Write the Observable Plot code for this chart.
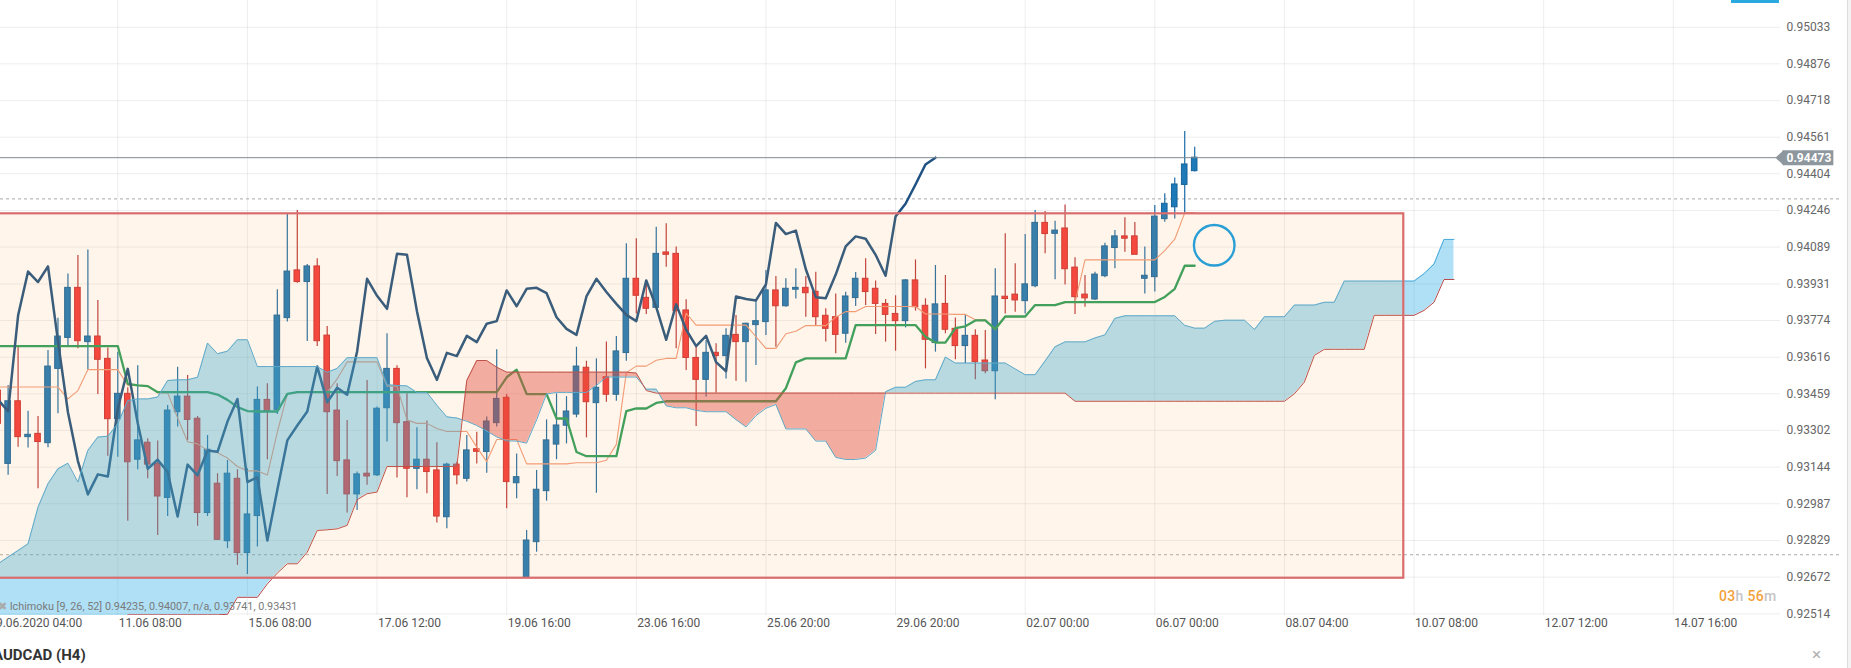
<!DOCTYPE html>
<html><head><meta charset="utf-8">
<script src="https://cdn.jsdelivr.net/npm/d3@7"></script>
<script src="https://cdn.jsdelivr.net/npm/@observablehq/plot@0.6"></script>
<style>
html,body{margin:0;padding:0;background:#fff;}
body{width:1851px;height:668px;position:relative;overflow:hidden;font-family:Roboto,"Noto Sans",sans-serif;}
#chart{position:absolute;left:0;top:0;}
.ov{position:absolute;white-space:nowrap;}
</style></head><body>
<div id="chart"></div>
<div class="ov" style="left:-2px;top:600px;font-size:10.8px;color:#7a7a7a;"><span style="color:#aaa">✖</span> Ichimoku [9, 26, 52] 0.94235, 0.94007, n/a, 0.93741, 0.93431</div>
<div class="ov" style="left:1719px;top:588px;font-size:14px;font-weight:500;letter-spacing:0.3px;"><span style="color:#f2a23a">03</span><span style="color:#c4c4c4">h</span> <span style="color:#f2a23a">56</span><span style="color:#c4c4c4">m</span></div>
<div class="ov" style="left:-7px;top:646px;font-size:15px;font-weight:700;color:#333;">AUDCAD (H4)</div>
<div class="ov" style="left:1812px;top:644px;font-size:17px;color:#b0b0b0;">×</div>
<div class="ov" style="left:1731px;top:0;width:48px;height:3px;background:#2aa8e0;"></div>
<div class="ov" style="left:1847px;top:0;width:4px;height:668px;background:#f3f3f3;border-left:1px solid #dcdcdc;"></div>
<script>
// ---- bar index: 0 = 11.06 08:00 (H4 bars); candles from -12 to 108 ----
const candleIndex = d3.range(-12, 109);
const cloudIndex = d3.range(-12, 135);

const open = [
0.93473,0.93158,0.93427,0.93273,0.93287,0.93247,0.93566,0.93699,0.93914,0.93681,
0.93705,0.93609,0.93350,0.93459,0.93176,0.93249,0.93158,0.93012,0.93380,0.93447,
0.93352,0.92947,0.93073,0.92826,0.93094,0.92775,0.92934,0.93433,0.93390,0.93784,
0.93989,0.93939,0.94006,0.93709,0.93387,0.93173,0.93027,0.93116,0.93109,0.93397,
0.93566,0.93337,0.93137,0.93176,0.93130,0.92929,0.93155,0.93094,0.93221,0.93209,
0.93333,0.93442,0.93075,0.92668,0.92822,0.93041,0.93241,0.93322,0.93370,0.93571,
0.93419,0.93530,0.93455,0.93634,0.93953,0.93871,0.93828,0.94066,0.94060,0.93817,
0.93613,0.93519,0.93635,0.93621,0.93712,0.93681,0.93754,0.93767,0.93903,0.93835,
0.93906,0.93914,0.93897,0.93794,0.93788,0.93717,0.93870,0.93953,0.93910,0.93845,
0.93802,0.93771,0.93946,0.93837,0.93677,0.93845,0.93738,0.93664,0.93708,0.93602,
0.93556,0.93876,0.93885,0.93857,0.93921,0.94193,0.94146,0.94169,0.94001,0.93885,
0.93864,0.93964,0.94085,0.94135,0.94135,0.93953,0.93960,0.94209,0.94260,0.94356,
0.94415];
const high = [
0.93645,0.93495,0.93659,0.93384,0.93362,0.93645,0.93784,0.93974,0.94053,0.94077,
0.93860,0.93656,0.93638,0.93485,0.93580,0.93266,0.93256,0.93409,0.93573,0.93538,
0.93362,0.93280,0.93116,0.93173,0.93133,0.93137,0.93488,0.93502,0.93906,0.94232,
0.94246,0.94014,0.94039,0.93748,0.93502,0.93344,0.93123,0.93516,0.93402,0.93717,
0.93580,0.93459,0.93313,0.93342,0.93249,0.93161,0.93165,0.93280,0.93294,0.93359,
0.93648,0.93456,0.93201,0.92872,0.93130,0.93347,0.93459,0.93447,0.93659,0.93599,
0.93609,0.93681,0.93705,0.94103,0.94125,0.93946,0.94174,0.94189,0.94089,0.93863,
0.93659,0.93688,0.93674,0.93738,0.93795,0.93762,0.93855,0.93989,0.93963,0.93953,
0.93996,0.93963,0.93981,0.93824,0.93888,0.93895,0.93980,0.94039,0.93943,0.93864,
0.93880,0.93950,0.94034,0.93867,0.94010,0.93967,0.93785,0.93795,0.93734,0.93731,
0.93996,0.94146,0.94017,0.94143,0.94246,0.94242,0.94200,0.94270,0.94043,0.93967,
0.93981,0.94106,0.94160,0.94215,0.94195,0.94089,0.94268,0.94318,0.94386,0.94585,
0.94518];
const low = [
0.92894,0.93109,0.93230,0.93226,0.93051,0.93227,0.93373,0.93667,0.93652,0.93562,
0.93456,0.93191,0.93187,0.92912,0.93133,0.93094,0.92851,0.92932,0.93316,0.93259,
0.92890,0.92932,0.92829,0.92794,0.92722,0.92683,0.92801,0.93176,0.93370,0.93767,
0.93934,0.93684,0.93662,0.93027,0.93104,0.92947,0.92958,0.93066,0.93104,0.93252,
0.93098,0.93013,0.93047,0.93030,0.92904,0.92879,0.93069,0.93080,0.93158,0.93118,
0.93316,0.92965,0.93008,0.92668,0.92779,0.92998,0.93176,0.93244,0.93356,0.93270,
0.93032,0.93423,0.93427,0.93599,0.93802,0.93800,0.93824,0.94003,0.93652,0.93559,
0.93319,0.93445,0.93462,0.93523,0.93513,0.93509,0.93581,0.93709,0.93659,0.93831,
0.93866,0.93788,0.93752,0.93681,0.93631,0.93676,0.93834,0.93838,0.93714,0.93681,
0.93642,0.93742,0.93814,0.93566,0.93638,0.93717,0.93605,0.93588,0.93519,0.93545,
0.93433,0.93802,0.93809,0.93802,0.93914,0.94060,0.93949,0.93926,0.93800,0.93831,
0.93860,0.93957,0.93996,0.94067,0.94056,0.93888,0.93896,0.94196,0.94210,0.94229,
0.94411];
const close = [
0.93330,0.93427,0.93273,0.93283,0.93252,0.93576,0.93705,0.93914,0.93685,0.93705,
0.93605,0.93350,0.93459,0.93165,0.93259,0.93155,0.93018,0.93387,0.93447,0.93347,
0.92947,0.93219,0.92832,0.93116,0.92775,0.92941,0.93433,0.93384,0.93795,0.93984,
0.93939,0.94006,0.93685,0.93380,0.93170,0.93027,0.93113,0.93104,0.93395,0.93566,
0.93333,0.93137,0.93176,0.93123,0.92932,0.93155,0.93109,0.93216,0.93210,0.93340,
0.93437,0.93080,0.93101,0.92829,0.93047,0.93259,0.93323,0.93383,0.93576,0.93423,
0.93485,0.93455,0.93641,0.93953,0.93880,0.93824,0.94060,0.94056,0.93814,0.93613,
0.93519,0.93635,0.93621,0.93708,0.93681,0.93760,0.93771,0.93903,0.93835,0.93910,
0.93914,0.93891,0.93788,0.93738,0.93712,0.93877,0.93953,0.93896,0.93845,0.93798,
0.93771,0.93946,0.93831,0.93691,0.93843,0.93734,0.93664,0.93708,0.93595,0.93556,
0.93877,0.93866,0.93860,0.93929,0.94193,0.94145,0.94160,0.93994,0.93874,0.93869,
0.93971,0.94092,0.94135,0.94125,0.94056,0.93966,0.94220,0.94275,0.94358,0.94444,
0.94473];

// Ichimoku lines (per candle)
const tenkan = [
0.93488,0.93488,0.93488,0.93488,0.93488,0.93488,0.93488,0.93437,0.93473,0.93563,
0.93563,0.93563,0.93563,0.93495,0.93495,0.93495,0.93463,0.93463,0.93355,0.93253,
0.93244,0.93216,0.93206,0.93183,0.93147,0.93128,0.93128,0.93110,0.93295,0.93458,
0.93465,0.93465,0.93465,0.93465,0.93523,0.93596,0.93596,0.93596,0.93596,0.93492,
0.93492,0.93347,0.93332,0.93332,0.93310,0.93297,0.93297,0.93297,0.93230,0.93168,
0.93263,0.93263,0.93263,0.93158,0.93158,0.93158,0.93158,0.93158,0.93163,0.93163,
0.93163,0.93174,0.93242,0.93550,0.93578,0.93578,0.93603,0.93611,0.93611,0.93805,
0.93754,0.93754,0.93754,0.93754,0.93754,0.93754,0.93704,0.93654,0.93654,0.93717,
0.93728,0.93752,0.93752,0.93752,0.93788,0.93812,0.93812,0.93834,0.93834,0.93834,
0.93834,0.93834,0.93834,0.93802,0.93802,0.93802,0.93800,0.93800,0.93777,0.93777,
0.93734,0.93790,0.93790,0.93790,0.93840,0.93840,0.93840,0.93851,0.93851,0.94034,
0.94034,0.94034,0.94034,0.94034,0.94034,0.94034,0.94034,0.94074,0.94123,0.94236,
0.94236];
const kijun = [
0.93664,0.93664,0.93664,0.93664,0.93664,0.93664,0.93664,0.93664,0.93664,0.93664,
0.93664,0.93664,0.93664,0.93502,0.93495,0.93492,0.93466,0.93466,0.93466,0.93466,
0.93466,0.93466,0.93456,0.93433,0.93402,0.93385,0.93383,0.93383,0.93383,0.93459,
0.93466,0.93466,0.93466,0.93466,0.93466,0.93466,0.93466,0.93466,0.93466,0.93466,
0.93466,0.93466,0.93466,0.93466,0.93466,0.93466,0.93466,0.93466,0.93466,0.93466,
0.93466,0.93530,0.93563,0.93458,0.93458,0.93458,0.93353,0.93353,0.93209,0.93191,
0.93191,0.93191,0.93191,0.93385,0.93396,0.93396,0.93420,0.93427,0.93427,0.93427,
0.93427,0.93427,0.93427,0.93427,0.93427,0.93427,0.93427,0.93427,0.93427,0.93483,
0.93594,0.93611,0.93611,0.93611,0.93611,0.93611,0.93754,0.93754,0.93754,0.93754,
0.93754,0.93754,0.93754,0.93704,0.93679,0.93679,0.93741,0.93749,0.93774,0.93774,
0.93737,0.93791,0.93791,0.93791,0.93840,0.93840,0.93840,0.93853,0.93853,0.93853,
0.93853,0.93853,0.93853,0.93853,0.93853,0.93853,0.93853,0.93875,0.93910,0.94009,
0.94009];

// Cloud spans (index -12 .. 134, 26 bars ahead of the last candle)
const senkouA = [
0.92729,0.92758,0.92786,0.92815,0.92972,0.93073,0.93137,0.93161,0.93080,0.93216,
0.93273,0.93277,0.93330,0.93430,0.93437,0.93437,0.93445,0.93516,0.93519,0.93519,
0.93530,0.93677,0.93631,0.93642,0.93691,0.93691,0.93576,0.93576,0.93576,0.93576,
0.93576,0.93576,0.93576,0.93551,0.93568,0.93614,0.93614,0.93614,0.93614,0.93498,
0.93495,0.93493,0.93465,0.93465,0.93410,0.93360,0.93355,0.93341,0.93323,0.93299,
0.93274,0.93257,0.93256,0.93247,0.93347,0.93458,0.93465,0.93465,0.93465,0.93465,
0.93495,0.93531,0.93531,0.93531,0.93531,0.93479,0.93479,0.93407,0.93399,0.93399,
0.93388,0.93382,0.93382,0.93382,0.93348,0.93317,0.93365,0.93397,0.93413,0.93308,
0.93308,0.93308,0.93256,0.93256,0.93186,0.93177,0.93177,0.93183,0.93216,0.93468,
0.93487,0.93487,0.93512,0.93519,0.93519,0.93617,0.93591,0.93591,0.93591,0.93591,
0.93591,0.93591,0.93566,0.93541,0.93541,0.93600,0.93661,0.93682,0.93682,0.93682,
0.93699,0.93712,0.93783,0.93794,0.93794,0.93794,0.93794,0.93794,0.93794,0.93753,
0.93741,0.93741,0.93770,0.93775,0.93775,0.93775,0.93735,0.93790,0.93790,0.93790,
0.93840,0.93840,0.93840,0.93852,0.93852,0.93943,0.93943,0.93943,0.93943,0.93943,
0.93943,0.93943,0.93943,0.93975,0.94016,0.94122,0.94122];
const senkouB = [
0.92470,0.92470,0.92470,0.92470,0.92470,0.92470,0.92470,0.92470,0.92470,0.92470,
0.92470,0.92470,0.92470,0.92510,0.92510,0.92510,0.92510,0.92510,0.92510,0.92510,
0.92510,0.92510,0.92510,0.92512,0.92585,0.92585,0.92585,0.92643,0.92689,0.92729,
0.92729,0.92779,0.92872,0.92875,0.92879,0.92894,0.93004,0.93030,0.93037,0.93147,
0.93147,0.93147,0.93147,0.93147,0.93147,0.93147,0.93147,0.93516,0.93602,0.93602,
0.93573,0.93552,0.93552,0.93552,0.93552,0.93552,0.93552,0.93552,0.93552,0.93552,
0.93552,0.93552,0.93552,0.93552,0.93548,0.93473,0.93462,0.93462,0.93462,0.93462,
0.93462,0.93462,0.93462,0.93462,0.93462,0.93462,0.93462,0.93462,0.93462,0.93462,
0.93462,0.93462,0.93462,0.93462,0.93462,0.93462,0.93462,0.93462,0.93462,0.93462,
0.93462,0.93462,0.93462,0.93462,0.93462,0.93462,0.93462,0.93462,0.93462,0.93462,
0.93462,0.93462,0.93462,0.93462,0.93462,0.93462,0.93462,0.93462,0.93427,0.93427,
0.93427,0.93427,0.93427,0.93427,0.93427,0.93427,0.93427,0.93427,0.93427,0.93427,
0.93427,0.93427,0.93427,0.93427,0.93427,0.93427,0.93427,0.93427,0.93427,0.93427,
0.93459,0.93509,0.93624,0.93650,0.93650,0.93650,0.93650,0.93650,0.93796,0.93796,
0.93796,0.93796,0.93796,0.93817,0.93852,0.93950,0.93950];

// axis ticks
const yTicks = [0.95033,0.94876,0.94718,0.94561,0.94404,0.94246,0.94089,0.93931,0.93774,
  0.93616,0.93459,0.93302,0.93144,0.92987,0.92829,0.92672,0.92514];
const xTickIndex = [-13,0,13,26,39,52,65,78,91,104,117,130,143,156];
const xTickLabels = ["09.06.2020 04:00","11.06 08:00","15.06 08:00","17.06 12:00","19.06 16:00",
  "23.06 16:00","25.06 20:00","29.06 20:00","02.07 00:00","06.07 00:00","08.07 04:00",
  "10.07 08:00","12.07 12:00","14.07 16:00"];

// drawings
const lastPrice = [0.94473];
const dashedLevels = [0.94296, 0.92768];
const zone = [{start: -14, end: 128.97, low: 0.92667, high: 0.94232}];
const marker = [{i: 109.96, p: 0.94097}];

// ---- derived tables ----
const candles = candleIndex.map((i, k) => ({i, o: open[k], h: high[k], l: low[k], c: close[k]}));
const isUp = d => d.c >= d.o;
const series = arr => candleIndex.map((i, k) => ({i, v: arr[k]}));
const chikou = candleIndex.slice(0, candleIndex.length - 26).map((i, k) => ({i, v: close[k + 26]}));
const cloud = [];
for (let k = 0; k < cloudIndex.length; k++) {
  const a = senkouA[k], b = senkouB[k];
  cloud.push({i: cloudIndex[k], a, b});
  if (k < cloudIndex.length - 1) {
    const d1 = a - b, d2 = senkouA[k+1] - senkouB[k+1];
    if (d1 * d2 < 0) {
      const t = d1 / (d1 - d2);
      const v = a + t * (senkouA[k+1] - a);
      cloud.push({i: cloudIndex[k] + t, a: v, b: v});
    }
  }
}
const xTicks = xTickIndex.map((i, k) => ({i, label: xTickLabels[k]}));

const X0 = -11.764, X1 = 166.75, Y0 = 0.92507, Y1 = 0.95148;
const leftArrow = {draw(ctx, size) { const r = Math.sqrt(size / Math.PI);
  ctx.moveTo(-0.55 * r, 0); ctx.lineTo(0.55 * r, -r); ctx.lineTo(0.55 * r, r); ctx.closePath(); }};

const chart = Plot.plot({
  width: 1851, height: 640,
  marginTop: 0, marginLeft: 0, marginRight: 71, marginBottom: 25,
  x: {type: "linear", domain: [X0, X1], axis: null},
  y: {type: "linear", domain: [Y0, Y1], axis: null},
  style: {background: "transparent", fontFamily: "Roboto, 'Noto Sans', sans-serif"},
  marks: [
    Plot.ruleY(yTicks, {x1: X0, x2: X1, stroke: "#000", strokeOpacity: 0.07}),
    Plot.ruleX(xTicks, {x: "i", y1: Y0, y2: Y1, stroke: "#000", strokeOpacity: 0.07}),
    Plot.ruleY(dashedLevels, {x1: X0, x2: 172.8, stroke: "#a9a9a9", strokeDasharray: "3,3"}),
    // candles
    Plot.ruleX(candles, {x: "i", y1: "l", y2: "h", stroke: d => isUp(d) ? "#1b6ca6" : "#b8393c", strokeWidth: 1.2, clip: true}),
    Plot.rect(candles, {x1: d => d.i - 0.28, x2: d => d.i + 0.28, y1: d => Math.min(d.o, d.c), y2: d => Math.max(d.o, d.c),
      fill: d => isUp(d) ? "#1e79b8" : "#f33b3c", stroke: d => isUp(d) ? "#17649a" : "#c92f32", strokeWidth: 1, clip: true}),
    // lines
    Plot.line(series(tenkan), {x: "i", y: "v", stroke: "#f19a7b", strokeWidth: 1.1, clip: true}),
    Plot.line(series(kijun), {x: "i", y: "v", stroke: "#2a9f5e", strokeWidth: 2.3, clip: true}),
    Plot.line(chikou, {x: "i", y: "v", stroke: "#1f5282", strokeWidth: 2.5, clip: true}),
    // cloud
    Plot.areaY(cloud, {x: "i", y1: "b", y2: d => Math.max(d.a, d.b), fill: "rgb(29,166,226)", fillOpacity: 0.35, clip: true}),
    Plot.areaY(cloud, {x: "i", y1: "a", y2: d => Math.max(d.a, d.b), fill: "rgb(225,60,55)", fillOpacity: 0.42, clip: true}),
    Plot.line(cloud, {x: "i", y: "a", stroke: "#4aa9d9", strokeWidth: 1, clip: true}),
    Plot.line(cloud, {x: "i", y: "b", stroke: "#b5484a", strokeWidth: 1, clip: true}),
    // zone rectangle
    Plot.rect(zone, {x1: "start", x2: "end", y1: "low", y2: "high", fill: "rgb(255,170,80)", fillOpacity: 0.12,
      stroke: "#d96c6c", strokeWidth: 2.2}),
    // current price
    Plot.ruleY(lastPrice, {x1: X0, x2: 166.4, stroke: "#7f8a90", strokeWidth: 1}),
    Plot.ruleY(lastPrice, {x1: 167.0, x2: 172.1, stroke: "#8d979d", strokeWidth: 15}),
    Plot.dot(lastPrice, {x: 166.65, y: d => d, symbol: leftArrow, r: 7.5, fill: "#8d979d", stroke: "none"}),
    // annotation ellipse
    Plot.dot(marker, {x: "i", y: "p", r: 20.3, stroke: "#2a9fd6", strokeWidth: 2.4, fill: "none", ariaLabel: "marker"}),
    // labels
    Plot.text(yTicks, {x: X1, y: d => d, text: d => d.toFixed(5), textAnchor: "start", dx: 6, fill: "#666", fontSize: 12, ariaLabel: "ylabels"}),
    Plot.text(lastPrice, {x: X1, y: d => d, text: d => d.toFixed(5), textAnchor: "start", dx: 6, fill: "#fff", fontWeight: "bold", fontSize: 12, ariaLabel: "ylabels"}),
    Plot.text(xTicks, {x: "i", y: Y0, text: "label", textAnchor: "start", dx: 1, dy: 8, fill: "#555", fontSize: 12})
  ]
});
document.getElementById("chart").appendChild(chart);
d3.select(chart).selectAll('g[aria-label="ylabels"]').style("letter-spacing", "0.4px");
d3.select(chart).selectAll('g[aria-label="marker"] circle').each(function() {
  const cx = +this.getAttribute("cx"), cy = +this.getAttribute("cy");
  this.setAttribute("transform", `translate(${cx},${cy}) scale(1,1.25) translate(${-cx},${-cy})`);
  this.setAttribute("vector-effect", "non-scaling-stroke");
});
</script>
</body></html>
